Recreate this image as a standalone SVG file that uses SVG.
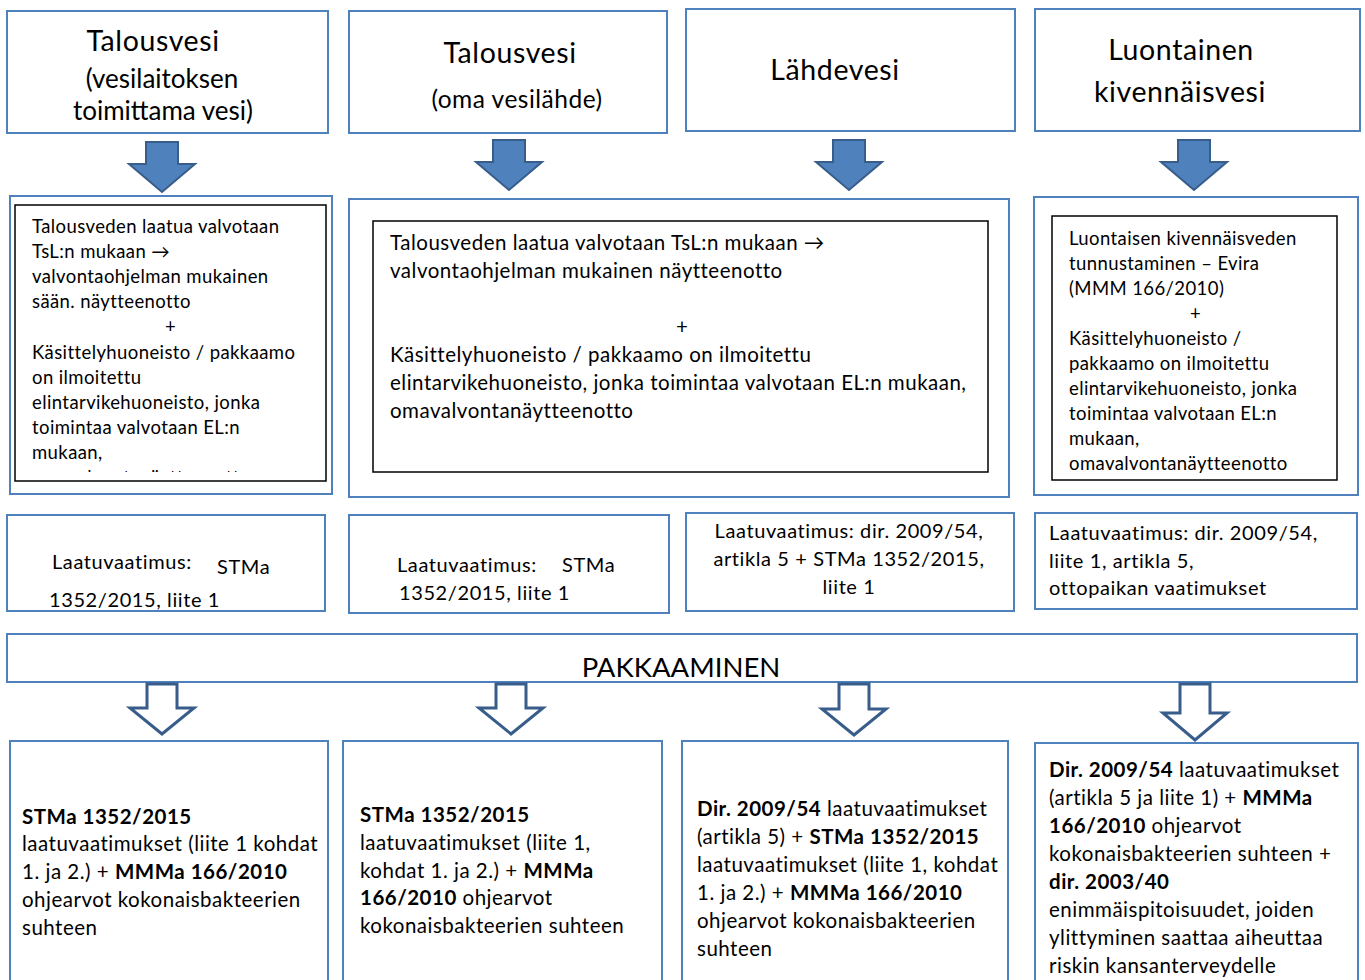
<svg xmlns="http://www.w3.org/2000/svg" width="1365" height="980" viewBox="0 0 1365 980">
<style>
.box{fill:#fff;stroke:#4F81BD;stroke-width:2}
.inner{fill:#fff;stroke:#000;stroke-width:1.5}
.farr{fill:#4F81BD;stroke:#385D8A;stroke-width:2;stroke-linejoin:miter}
.oarr{fill:#fff;stroke:#385D8A;stroke-width:3;stroke-linejoin:miter}
text{font-family:Lato,"Liberation Sans",sans-serif;fill:#000}
.h{font-size:28.5px;letter-spacing:0.6px;text-anchor:middle}
.h2{font-size:26px;text-anchor:middle}
.hs{font-size:24.5px;letter-spacing:0.5px;text-anchor:middle}
.m{font-size:18.5px;letter-spacing:0.4px}
.m2{font-size:20.5px;letter-spacing:0.5px}
.q{font-size:20px;letter-spacing:0.6px}
.qc{font-size:20px;letter-spacing:0.6px;text-anchor:middle}
.b{font-size:20.5px;letter-spacing:0.5px}
.bd{font-weight:bold}
.pk{font-size:27.5px;text-anchor:middle}
</style>
<defs>
<clipPath id="c1"><rect x="15" y="205" width="311" height="267"/></clipPath>
<clipPath id="c4"><rect x="1052" y="216" width="285" height="258"/></clipPath>
</defs>

<g id="n-top1">
<rect class="box" x="7" y="11" width="321" height="122"/>
<text class="h" x="153" y="51">Talousvesi</text>
<text class="h2" x="162" y="88">(vesilaitoksen</text>
<text class="h2" x="163" y="120">toimittama vesi)</text>
</g>
<g id="n-top2">
<rect class="box" x="349" y="11" width="318" height="122"/>
<text class="h" x="510" y="63">Talousvesi</text>
<text class="hs" x="517" y="108">(oma vesilähde)</text>
</g>
<g id="n-top3">
<rect class="box" x="686" y="9" width="329" height="122"/>
<text class="h" x="835" y="80">Lähdevesi</text>
</g>
<g id="n-top4">
<rect class="box" x="1035" y="9" width="325" height="122"/>
<text class="h" x="1181" y="60">Luontainen</text>
<text class="h" x="1180" y="102">kivennäisvesi</text>
</g>

<g id="n-mid1">
<rect class="box" x="10" y="196" width="322" height="298"/>
<rect class="inner" x="15" y="205" width="311" height="276"/>
<g clip-path="url(#c1)">
<text class="m" x="32" y="233">Talousveden laatua valvotaan</text>
<text class="m" x="32" y="258">TsL:n mukaan →</text>
<text class="m" x="32" y="283">valvontaohjelman mukainen</text>
<text class="m" x="32" y="308">sään. näytteenotto</text>
<text class="m" x="165" y="333">+</text>
<text class="m" x="32" y="359">Käsittelyhuoneisto / pakkaamo</text>
<text class="m" x="32" y="384">on ilmoitettu</text>
<text class="m" x="32" y="409">elintarvikehuoneisto, jonka</text>
<text class="m" x="32" y="434">toimintaa valvotaan EL:n</text>
<text class="m" x="32" y="459">mukaan,</text>
<text class="m" x="32" y="484">omavalvontanäytteenotto</text>
</g>
</g>
<g id="n-mid2">
<rect class="box" x="349" y="199" width="660" height="298"/>
<rect class="inner" x="373" y="221" width="615" height="251"/>
<text class="m2" x="390" y="250">Talousveden laatua valvotaan TsL:n mukaan →</text>
<text class="m2" x="390" y="278">valvontaohjelman mukainen näytteenotto</text>
<text class="m2" x="676" y="334">+</text>
<text class="m2" x="390" y="362">Käsittelyhuoneisto / pakkaamo on ilmoitettu</text>
<text class="m2" x="390" y="390">elintarvikehuoneisto, jonka toimintaa valvotaan EL:n mukaan,</text>
<text class="m2" x="390" y="418">omavalvontanäytteenotto</text>
</g>
<g id="n-mid4">
<rect class="box" x="1034" y="197" width="324" height="298"/>
<rect class="inner" x="1052" y="216" width="285" height="264"/>
<g clip-path="url(#c4)">
<text class="m" x="1069" y="245">Luontaisen kivennäisveden</text>
<text class="m" x="1069" y="270">tunnustaminen – Evira</text>
<text class="m" x="1069" y="295">(MMM 166/2010)</text>
<text class="m" x="1190" y="320">+</text>
<text class="m" x="1069" y="345">Käsittelyhuoneisto /</text>
<text class="m" x="1069" y="370">pakkaamo on ilmoitettu</text>
<text class="m" x="1069" y="395">elintarvikehuoneisto, jonka</text>
<text class="m" x="1069" y="420">toimintaa valvotaan EL:n</text>
<text class="m" x="1069" y="445">mukaan,</text>
<text class="m" x="1069" y="470">omavalvontanäytteenotto</text>
</g>
</g>

<g id="n-req1">
<rect class="box" x="7" y="515" width="318" height="96"/>
<text class="q" x="52" y="569">Laatuvaatimus:</text>
<text class="q" x="217" y="574">STMa</text>
<text class="q" x="49" y="607">1352/2015, liite 1</text>
</g>
<g id="n-req2">
<rect class="box" x="349" y="515" width="320" height="98"/>
<text class="q" x="397" y="572">Laatuvaatimus:</text>
<text class="q" x="562" y="572">STMa</text>
<text class="q" x="399" y="600">1352/2015, liite 1</text>
</g>
<g id="n-req3">
<rect class="box" x="686" y="513" width="328" height="98"/>
<text class="qc" x="849" y="538">Laatuvaatimus: dir. 2009/54,</text>
<text class="qc" x="849" y="566">artikla 5 + STMa 1352/2015,</text>
<text class="qc" x="849" y="594">liite 1</text>
</g>
<g id="n-req4">
<rect class="box" x="1035" y="513" width="322" height="96"/>
<text class="q" x="1049" y="540">Laatuvaatimus: dir. 2009/54,</text>
<text class="q" x="1049" y="568">liite 1, artikla 5,</text>
<text class="q" x="1049" y="595">ottopaikan vaatimukset</text>
</g>

<g id="n-pack">
<rect class="box" x="7" y="634" width="1350" height="48"/>
<text class="pk" x="681" y="677">PAKKAAMINEN</text>
</g>

<g id="n-bot1">
<rect class="box" x="10" y="741" width="318" height="250"/>
<text class="b" x="22" y="824"><tspan class="bd">STMa 1352/2015</tspan></text>
<text class="b" x="22" y="851">laatuvaatimukset (liite 1 kohdat</text>
<text class="b" x="22" y="879">1. ja 2.) + <tspan class="bd">MMMa 166/2010</tspan></text>
<text class="b" x="22" y="907">ohjearvot kokonaisbakteerien</text>
<text class="b" x="22" y="935">suhteen</text>
</g>
<g id="n-bot2">
<rect class="box" x="343" y="741" width="319" height="250"/>
<text class="b" x="360" y="822"><tspan class="bd">STMa 1352/2015</tspan></text>
<text class="b" x="360" y="850">laatuvaatimukset (liite 1,</text>
<text class="b" x="360" y="878">kohdat 1. ja 2.) + <tspan class="bd">MMMa</tspan></text>
<text class="b" x="360" y="905"><tspan class="bd">166/2010</tspan> ohjearvot</text>
<text class="b" x="360" y="933">kokonaisbakteerien suhteen</text>
</g>
<g id="n-bot3">
<rect class="box" x="682" y="741" width="326" height="250"/>
<text class="b" x="697" y="816"><tspan class="bd">Dir. 2009/54</tspan> laatuvaatimukset</text>
<text class="b" x="697" y="844">(artikla 5) + <tspan class="bd">STMa 1352/2015</tspan></text>
<text class="b" x="697" y="872">laatuvaatimukset (liite 1, kohdat</text>
<text class="b" x="697" y="900">1. ja 2.) + <tspan class="bd">MMMa 166/2010</tspan></text>
<text class="b" x="697" y="928">ohjearvot kokonaisbakteerien</text>
<text class="b" x="697" y="956">suhteen</text>
</g>
<g id="n-bot4">
<rect class="box" x="1035" y="743" width="323" height="250"/>
<text class="b" x="1049" y="777"><tspan class="bd">Dir. 2009/54</tspan> laatuvaatimukset</text>
<text class="b" x="1049" y="805">(artikla 5 ja liite 1) +  <tspan class="bd">MMMa</tspan></text>
<text class="b" x="1049" y="833"><tspan class="bd">166/2010</tspan> ohjearvot</text>
<text class="b" x="1049" y="861">kokonaisbakteerien suhteen +</text>
<text class="b" x="1049" y="889"><tspan class="bd">dir. 2003/40</tspan></text>
<text class="b" x="1049" y="917">enimmäispitoisuudet, joiden</text>
<text class="b" x="1049" y="945">ylittyminen saattaa aiheuttaa</text>
<text class="b" x="1049" y="973">riskin kansanterveydelle</text>
</g>

<g id="connectors">
<path class="farr" d="M146,142 H178 V164 H195 L162,192 L129,164 H146 Z"/>
<path class="farr" d="M493,140 H525 V162 H542 L509,190 L476,162 H493 Z"/>
<path class="farr" d="M833,140 H865 V162 H882 L849,190 L816,162 H833 Z"/>
<path class="farr" d="M1178,140 H1210 V162 H1227 L1194,190 L1161,162 H1178 Z"/>
<path class="oarr" d="M147,684 H177 V708 H194 L162,734 L130,708 H147 Z"/>
<path class="oarr" d="M496,684 H526 V708 H543 L511,734 L479,708 H496 Z"/>
<path class="oarr" d="M839,684 H869 V709 H886 L854,735 L822,709 H839 Z"/>
<path class="oarr" d="M1180,684 H1210 V713 H1227 L1195,740 L1163,713 H1180 Z"/>
</g>
</svg>
